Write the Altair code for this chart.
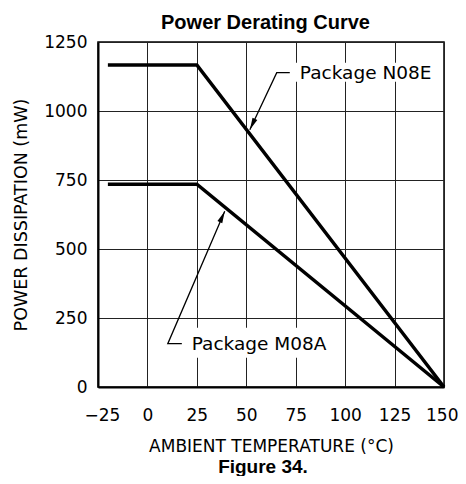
import altair as alt
import pandas as pd

# --- data ---
temps_n08e = [-20, 25, 150]
power_n08e = [1167, 1167, 0]
temps_m08a = [-20, 25, 150]
power_m08a = [735, 735, 0]

# annotation leader lines (stub end -> corner -> arrow tip)
lead_n08e_x = [72.0, 65.4, 51.8]
lead_n08e_y = [1139, 1139, 932]
lead_m08a_x = [17.4, 10.3, 39.1]
lead_m08a_y = [157, 157, 637]
arrow_angles = [205, 24]

label_text = ["Package N08E", "Package M08A"]
label_x = [77.1, 22.4]
label_y = [1139, 157]
box_x = [75.0, 19.4]
box_x2 = [144.9, 92.3]
box_y = [1106, 106]
box_y2 = [1175, 215]

x_ticks = [-25, 0, 25, 50, 75, 100, 125, 150]
y_ticks = [0, 250, 500, 750, 1000, 1250]

TICKFONT = "DejaVu Sans"
curves = pd.DataFrame({
    "temp": temps_n08e + temps_m08a,
    "power": power_n08e + power_m08a,
    "pkg": ["N08E"] * 3 + ["M08A"] * 3,
    "order": [0, 1, 2] * 2,
})
leads = pd.DataFrame({
    "x": lead_n08e_x + lead_m08a_x,
    "y": lead_n08e_y + lead_m08a_y,
    "pkg": ["N08E"] * 3 + ["M08A"] * 3,
    "order": [0, 1, 2] * 2,
})
tips = pd.DataFrame({
    "x": [lead_n08e_x[-1], lead_m08a_x[-1]],
    "y": [lead_n08e_y[-1], lead_m08a_y[-1]],
    "angle": arrow_angles,
})
labels = pd.DataFrame({"text": label_text, "x": label_x, "y": label_y,
                       "bx": box_x, "bx2": box_x2, "by": box_y, "by2": box_y2})

xscale = alt.Scale(domain=[-25, 150], nice=False, zero=False)
yscale = alt.Scale(domain=[0, 1250], nice=False)

main_x_axis = alt.Axis(values=x_ticks, title="AMBIENT TEMPERATURE (°C)", grid=True,
                       gridColor="#222", gridWidth=1, gridOpacity=1, format="d",
                       labelFlush=True, labelFlushOffset=14, labelOverlap=False,
                       tickSize=0, labelPadding=20, labelFont=TICKFONT, labelFontSize=17,
                       labelColor="black", titleFont=TICKFONT, titleFontSize=17,
                       titleFontWeight="normal", titleColor="black", titlePadding=15,
                       domainColor="black", domainWidth=2)
main_y_axis = alt.Axis(values=y_ticks, title="POWER DISSIPATION (mW)", grid=True,
                       gridColor="#222", gridWidth=1, gridOpacity=1, format="d",
                       labelFlush=False, labelOverlap=False,
                       tickSize=0, labelPadding=11, labelFont=TICKFONT, labelFontSize=17,
                       labelColor="black", titleFont=TICKFONT, titleFontSize=17.5,
                       titleFontWeight="normal", titleColor="black", titlePadding=13,
                       domainColor="black", domainWidth=2)

boxes = alt.Chart(labels).mark_rect(fill="white", stroke=None).encode(
    x=alt.X("bx:Q", scale=xscale, axis=main_x_axis),
    x2="bx2:Q",
    y=alt.Y("by:Q", scale=yscale, axis=main_y_axis),
    y2="by2:Q",
)

top_axis = alt.Chart(labels).mark_rect(opacity=0).encode(
    x=alt.X("bx:Q", scale=xscale,
            axis=alt.Axis(orient="top", labels=False, ticks=False, domain=False, grid=False,
                          title="Power Derating Curve", titleFont="Liberation Sans",
                          titleFontSize=20, titleFontWeight="bold", titleColor="black",
                          titlePadding=10, titleX=167)),
    x2="bx2:Q",
    y=alt.Y("by:Q", scale=yscale, axis=None),
    y2="by2:Q",
)

text = alt.Chart(labels).mark_text(align="left", baseline="middle", font=TICKFONT,
                                   fontSize=18.5, color="black").encode(
    x=alt.X("x:Q", scale=xscale, axis=None),
    y=alt.Y("y:Q", scale=yscale, axis=None),
    text="text:N",
)

lines = alt.Chart(curves).mark_line(color="black", strokeWidth=3.5, strokeJoin="miter").encode(
    x=alt.X("temp:Q", scale=xscale, axis=None),
    y=alt.Y("power:Q", scale=yscale, axis=None),
    detail="pkg:N",
    order="order:Q",
)

leaders = alt.Chart(leads).mark_line(color="black", strokeWidth=1.3).encode(
    x=alt.X("x:Q", scale=xscale, axis=None),
    y=alt.Y("y:Q", scale=yscale, axis=None),
    detail="pkg:N",
    order="order:Q",
)

heads = alt.Chart(tips).mark_point(
    shape="M0,0L-0.22,1L0.22,1Z", filled=True, color="black", opacity=1, size=576
).encode(
    x=alt.X("x:Q", scale=xscale, axis=None),
    y=alt.Y("y:Q", scale=yscale, axis=None),
    angle=alt.Angle("angle:Q", scale=None),
)

chart = alt.layer(boxes, top_axis, text, lines, leaders, heads).resolve_axis(
    x="independent", y="independent"
).properties(
    width=346,
    height=345,
    autosize=alt.AutoSizeParams(type="none"),
    padding={"left": 90, "top": 34, "right": 14, "bottom": 89},
    title=alt.TitleParams(text="Figure 34.", orient="bottom", anchor="middle",
                          font="Liberation Sans", fontSize=19, fontWeight="bold",
                          color="black", offset=0, dx=-8, dy=4),
).configure_view(stroke="black", strokeWidth=1.5)

chart.save("out.html", embed_options={"renderer": "svg", "actions": False})
